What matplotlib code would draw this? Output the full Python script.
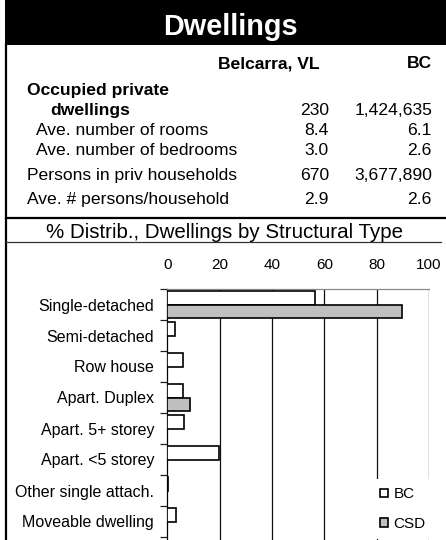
import matplotlib
matplotlib.use("Agg")
import matplotlib.pyplot as plt
from matplotlib.lines import Line2D
from matplotlib.patches import Rectangle
import numpy as np

# ---- data ----
title = "Dwellings"
area_name = "Belcarra, VL"
prov_name = "BC"

row_labels = ["Occupied private", "dwellings", "Ave. number of rooms",
              "Ave. number of bedrooms", "Persons in priv households",
              "Ave. # persons/household"]
area_values = ["", "230", "8.4", "3.0", "670", "2.9"]
prov_values = ["", "1,424,635", "6.1", "2.6", "3,677,890", "2.6"]

chart_title = "% Distrib., Dwellings by Structural Type"
categories = ["Single-detached", "Semi-detached", "Row house", "Apart. Duplex",
              "Apart. 5+ storey", "Apart. <5 storey", "Other single attach.",
              "Moveable dwelling"]
bc_pct = [56.4, 2.9, 6.1, 5.9, 6.4, 19.9, 0.4, 3.2]
csd_pct = [89.6, 0.0, 0.0, 8.7, 0.0, 0.0, 0.0, 0.0]
x_ticks = [0, 20, 40, 60, 80, 100]

# ---- layout (pixels on a 446x540 canvas) ----
W, H = 446, 540
plt.rcParams['font.family'] = ['Liberation Sans', 'DejaVu Sans']

fig = plt.figure(figsize=(W / 100, H / 100), dpi=100)


def fx(x):
    return x / W


def fy(y):
    return 1 - y / H


# black title bar
fig.add_artist(Rectangle((fx(5), fy(45)), fx(W) - fx(5), fy(0) - fy(45),
                         transform=fig.transFigure, facecolor='black',
                         edgecolor='none'))
fig.text(fx(230), fy(35), title, color='white', fontsize=20.8,
         fontweight='bold', ha='center', va='baseline')

# border lines
fig.add_artist(Line2D([fx(6), fx(6)], [fy(44), fy(H)], color='black', lw=1.6,
                      transform=fig.transFigure))
fig.add_artist(Line2D([fx(6), fx(W)], [fy(218), fy(218)], color='black', lw=1.6,
                      transform=fig.transFigure))
fig.add_artist(Line2D([fx(6), fx(441)], [fy(241.7), fy(241.7)], color='#333333',
                      lw=0.9, transform=fig.transFigure))

# table
fs = 12.6
fig.text(fx(320), fy(68.3), area_name, fontsize=fs, fontweight='bold',
         ha='right', va='baseline')
fig.text(fx(432), fy(68.3), prov_name, fontsize=fs, fontweight='bold',
         ha='right', va='baseline')

row_x = [27, 50, 36, 36, 27, 27]
row_y = [95, 115, 135, 155, 180, 204]
row_bold = [True, True, False, False, False, False]
for lab, a, p, x, y, b in zip(row_labels, area_values, prov_values, row_x, row_y, row_bold):
    fig.text(fx(x), fy(y), lab, fontsize=fs, fontweight='bold' if b else 'normal',
             ha='left', va='baseline')
    fig.text(fx(329), fy(y), a, fontsize=fs, ha='right', va='baseline')
    fig.text(fx(432), fy(y), p, fontsize=fs, ha='right', va='baseline')

fig.text(fx(225), fy(238), chart_title, fontsize=14.8, ha='center', va='baseline')

# ---- bar chart ----
ax_left, ax_right, ax_top, ax_bot = 167.3, 429, 289, 540
ax = fig.add_axes([fx(ax_left), fy(ax_bot), fx(ax_right) - fx(ax_left),
                   fy(ax_top) - fy(ax_bot)])

n = len(categories)
cat_px = 31.0
ypos = np.arange(n)
h = 0.42
ax.barh(ypos - h / 2, bc_pct, height=h, color='white', edgecolor='black',
        linewidth=1.2, label='BC', zorder=3)
ax.barh(ypos + h / 2, csd_pct, height=h, color='#c0c0c0', edgecolor='black',
        linewidth=1.2, label='CSD', zorder=3)

ax.set_xlim(0, 100)
ax.set_ylim(-0.5 + (ax_bot - ax_top) / cat_px, -0.5)

for v in x_ticks[1:]:
    ax.axvline(v, color='#111111', lw=0.9, zorder=1)

ax.xaxis.tick_top()
ax.set_xticks(x_ticks)
ax.tick_params(axis='x', length=0, pad=12, labelsize=11)

ax.set_yticks(ypos)
ax.set_yticklabels(categories)
ax.set_yticks(np.arange(n + 1) - 0.5, minor=True)
ax.tick_params(axis='y', which='major', length=0, pad=9.4, labelsize=11.5)
ax.tick_params(axis='y', which='minor', length=5, width=0.9, color='#222222',
               direction='out')

for s in ['right', 'bottom']:
    ax.spines[s].set_visible(False)
ax.spines['top'].set_color('#888888')
ax.spines['top'].set_linewidth(0.9)
ax.spines['left'].set_color('black')
ax.spines['left'].set_linewidth(0.9)

leg = ax.legend(loc='upper left', bbox_to_anchor=(fx(372), fy(479)),
                bbox_transform=fig.transFigure, fontsize=11, frameon=True,
                fancybox=False, edgecolor='none', facecolor='white', framealpha=1,
                borderpad=0.55, borderaxespad=0, handlelength=0.5,
                handleheight=0.5, handletextpad=0.35, labelspacing=1.0)

fig.savefig("out.png", dpi=100)
